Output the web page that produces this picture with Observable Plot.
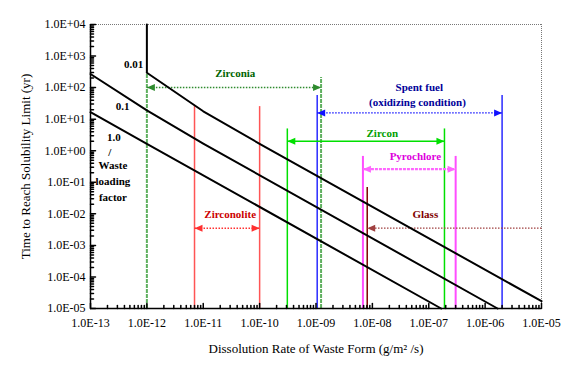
<!DOCTYPE html>
<html>
<head>
<meta charset="utf-8">
<script src="https://cdn.jsdelivr.net/npm/d3@7"></script>
<script src="https://cdn.jsdelivr.net/npm/@observablehq/plot@0.6"></script>
<style>
  html, body { margin: 0; padding: 0; background: white; }
</style>
</head>
<body>
<div id="chart"></div>
<script>
// ---- Data ----
// Waste loading factor lines (rate g/m2/s, time yr)
const wl1_rate = [1e-13, 1e-12, 1.66e-7];
const wl1_time = [16.6, 1.66, 1e-5];
const wl01_rate = [1e-13, 1e-12, 1e-11, 1.66e-6];
const wl01_time = [270, 19, 1.68, 1e-5];
const wl001_rate = [1e-12, 1e-12, 1e-11, 1e-10, 1e-5];
const wl001_time = [1e4, 295, 17.8, 1.66, 1.7e-5];

// Waste forms: dissolution rate ranges
const forms = ["Zirconia", "Spent fuel", "Zircon", "Pyrochlore", "Zirconolite", "Glass"];
const rateLow = [1e-12, 1.05e-9, 3.1e-10, 6.8e-9, 7e-12, 8.1e-9];
const rateHigh = [1.23e-9, 2.0e-6, 1.9e-7, 3.0e-7, 1e-10, 1e-5];
const topLow = [300, 56, 4.9, 0.66, 25, 0.068];
const topHigh = [209, 56, 4.9, 0.66, 25, null];
const arrowTime = [100, 15.8, 2.0, 0.26, 3.5e-3, 3.5e-3];

// Tick labels
const xTickLabels = ["1.0E-13","1.0E-12","1.0E-11","1.0E-10","1.0E-09","1.0E-08","1.0E-07","1.0E-06","1.0E-05"];
const yTickLabels = ["1.0E-05","1.0E-04","1.0E-03","1.0E-02","1.0E-01","1.0E+00","1.0E+01","1.0E+02","1.0E+03","1.0E+04"];

// ---- Styles ----
const formStyle = {
  "Zirconia":    {line: "#5fb05f", arrow: "#2e8b2e", text: "#006400", dash: "1.5,1.5", lw: 2, aw: 1.5, vdash: "4,1"},
  "Spent fuel":  {line: "#2a2aff", arrow: "#1010ff", text: "#000099", dash: "1.5,1.5", lw: 1.5, aw: 1.2, vdash: null},
  "Zircon":      {line: "#00e000", arrow: "#00e000", text: "#00a000", dash: null, lw: 1.5, aw: 1.5, vdash: null},
  "Pyrochlore":  {line: "#ff4dff", arrow: "#ff66ff", text: "#dd00dd", dash: "3,1", lw: 2, aw: 2.2, vdash: null},
  "Zirconolite": {line: "#ff5555", arrow: "#ff3030", text: "#cc0000", dash: "1.5,1.5", lw: 1.5, aw: 1.5, vdash: null},
  "Glass":       {line: "#800000", arrow: "#a04040", text: "#800000", dash: "1.5,1.5", lw: 1.5, aw: 1.2, vdash: null}
};

const lines = [
  ...wl1_rate.map((r, i) => ({f: "1.0", x: r, y: wl1_time[i]})),
  ...wl01_rate.map((r, i) => ({f: "0.1", x: r, y: wl01_time[i]})),
  ...wl001_rate.map((r, i) => ({f: "0.01", x: r, y: wl001_time[i]}))
];

const verticals = [];
forms.forEach((f, i) => {
  verticals.push({f, x: rateLow[i], top: topLow[i]});
  if (topHigh[i] != null) verticals.push({f, x: rateHigh[i], top: topHigh[i]});
});
const arrows = forms.map((f, i) => ({f, x1: rateLow[i], x2: rateHigh[i], y: arrowTime[i]}));

const labels = [
  {t: "0.01", x: 5.8e-13, y: 537, c: "black"},
  {t: "0.1", x: 3.7e-13, y: 25, c: "black"},
  {t: "1.0", x: 2.6e-13, y: 2.6, c: "black"},
  {t: "/", x: 2.2e-13, y: 0.87, c: "black"},
  {t: "Waste", x: 2.5e-13, y: 0.33, c: "black"},
  {t: "loading", x: 2.5e-13, y: 0.105, c: "black"},
  {t: "factor", x: 2.5e-13, y: 0.032, c: "black"},
  {t: "Zirconia", x: 3.7e-11, y: 277, c: formStyle["Zirconia"].text},
  {t: "Spent fuel", x: 6.8e-8, y: 100, c: formStyle["Spent fuel"].text},
  {t: "(oxidizing condition)", x: 6.3e-8, y: 33, c: formStyle["Spent fuel"].text},
  {t: "Zircon", x: 1.5e-8, y: 3.5, c: formStyle["Zircon"].text},
  {t: "Pyrochlore", x: 5.8e-8, y: 0.65, c: formStyle["Pyrochlore"].text},
  {t: "Glass", x: 8.7e-8, y: 9.3e-3, c: formStyle["Glass"].text},
  {t: "Zirconolite", x: 3.0e-11, y: 9.3e-3, c: formStyle["Zirconolite"].text}
];

const xMajor = xTickLabels.map(s => +s);
const yMajor = yTickLabels.map(s => +s);
const xMinor = [];
xMajor.slice(0, -1).forEach(d => { for (let k = 2; k <= 9; k++) xMinor.push(k * d); });
const yMinor = [];
yMajor.slice(0, -1).forEach(d => { for (let k = 2; k <= 9; k++) yMinor.push(k * d); });

const svgns = "http://www.w3.org/2000/svg";
function triMarker(color, context) {
  const doc = (context && context.document) || document;
  const m = doc.createElementNS(svgns, "marker");
  m.setAttribute("viewBox", "-8 -4 8 8");
  m.setAttribute("markerWidth", 8);
  m.setAttribute("markerHeight", 8);
  m.setAttribute("markerUnits", "userSpaceOnUse");
  m.setAttribute("orient", "auto-start-reverse");
  m.setAttribute("overflow", "visible");
  const p = doc.createElementNS(svgns, "path");
  p.setAttribute("d", "M0,0L-8,-3.5L-8,3.5Z");
  p.setAttribute("fill", color);
  p.setAttribute("stroke", "none");
  m.appendChild(p);
  return m;
}
const tickShape = {draw(context, l) { context.moveTo(0, 0); context.lineTo(0, -l); }};

const font = "Liberation Serif";

const marks = [];
// frame
marks.push(Plot.ruleY([1e4], {stroke: "#777", strokeDasharray: "1,1"}));
marks.push(Plot.ruleX([1e-5], {stroke: "#777", strokeDasharray: "1,1"}));

// vertical range lines
forms.forEach(f => {
  const s = formStyle[f];
  marks.push(Plot.ruleX(verticals.filter(d => d.f === f), {
    x: "x", y1: 1e-5, y2: "top", stroke: s.line, strokeWidth: s.lw, strokeDasharray: s.vdash
  }));
});

// arrows
forms.forEach(f => {
  const s = formStyle[f];
  const data = arrows.filter(d => d.f === f);
  if (f === "Glass") {
    marks.push(Plot.link(data, {x1: "x2", x2: "x1", y1: "y", y2: "y", stroke: s.arrow,
      strokeWidth: s.aw, strokeDasharray: s.dash, markerEnd: triMarker}));
  } else {
    marks.push(Plot.link(data, {x1: "x1", x2: "x2", y1: "y", y2: "y", stroke: s.arrow,
      strokeWidth: s.aw, strokeDasharray: s.dash, markerStart: triMarker, markerEnd: triMarker}));
  }
});

// loading factor lines
marks.push(Plot.line(lines, {x: "x", y: "y", z: "f", stroke: "black", strokeWidth: 2}));

// axes lines
marks.push(Plot.ruleX([1e-13], {stroke: "black", strokeWidth: 1.5}));
marks.push(Plot.ruleY([1e-5], {stroke: "black", strokeWidth: 1.5}));

// inside ticks
marks.push(Plot.vector(xMajor, {x: d => d, frameAnchor: "bottom", length: 5, rotate: 0, anchor: "start", shape: tickShape, stroke: "black"}));
marks.push(Plot.vector(xMinor, {x: d => d, frameAnchor: "bottom", length: 3, rotate: 0, anchor: "start", shape: tickShape, stroke: "black"}));
marks.push(Plot.vector(yMajor, {y: d => d, frameAnchor: "left", length: 5, rotate: 90, anchor: "start", shape: tickShape, stroke: "black"}));
marks.push(Plot.vector(yMinor, {y: d => d, frameAnchor: "left", length: 3, rotate: 90, anchor: "start", shape: tickShape, stroke: "black"}));

// tick labels
marks.push(Plot.text(xTickLabels, {x: d => +d, text: d => d, frameAnchor: "bottom", dy: 18, fontSize: 12, fontFamily: font, fill: "black"}));
marks.push(Plot.text(yTickLabels, {y: d => +d, text: d => d, frameAnchor: "left", textAnchor: "end", dx: -5, fontSize: 12, fontFamily: font, fill: "black"}));

// axis titles
marks.push(Plot.text(["Dissolution Rate of Waste Form (g/m² /s)"], {frameAnchor: "bottom", dy: 44, fontSize: 13, fontFamily: font, fill: "black"}));
marks.push(Plot.text(["Time to Reach Solubility Limit (yr)"], {frameAnchor: "left", dx: -65, rotate: -90, textAnchor: "middle", fontSize: 13, fontFamily: font, fill: "black"}));

// annotation labels
marks.push(Plot.text(labels, {x: "x", y: "y", text: "t", fill: "c", fontWeight: "bold", fontSize: 11, fontFamily: font}));

const chart = Plot.plot({
  width: 576,
  height: 378,
  marginTop: 24,
  marginBottom: 70,
  marginLeft: 90,
  marginRight: 35,
  x: {type: "log", domain: [1e-13, 1e-5], axis: null},
  y: {type: "log", domain: [1e-5, 1e4], axis: null},
  color: {type: "identity"},
  style: {fontFamily: font, fontSize: "12px", background: "white", color: "black"},
  marks
});
document.getElementById("chart").appendChild(chart);
</script>
</body>
</html>
